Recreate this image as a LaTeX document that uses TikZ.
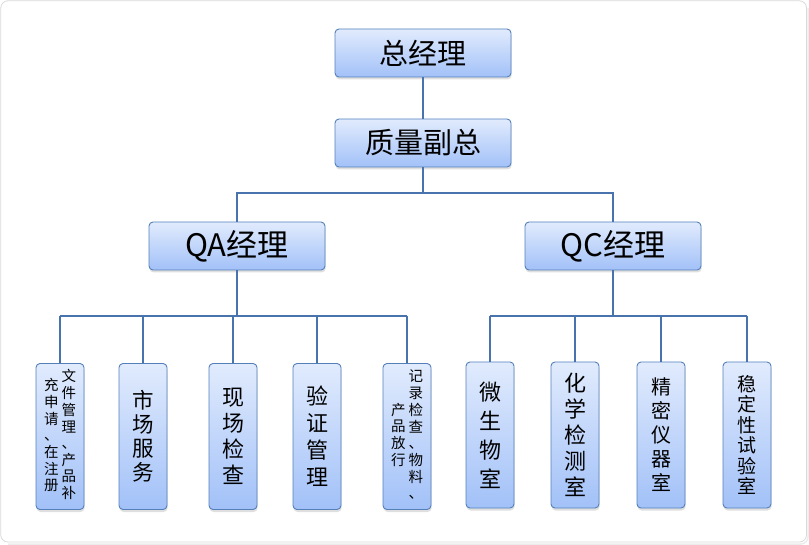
\documentclass[tikz,border=0pt]{standalone}
\usepackage{fontspec}
\newfontfamily\cjk{Noto Sans CJK SC}
\usepackage{tikz}
\usetikzlibrary{shadows}

\definecolor{boxline}{RGB}{84,128,186}
\definecolor{boxtop}{RGB}{225,235,253}
\definecolor{boxbot}{RGB}{162,193,248}
\definecolor{wirecol}{RGB}{72,115,172}

\newcommand\stackcol[1]{\begin{tabular}{@{}c@{}}#1\end{tabular}}

\tikzset{
  box/.style={draw=boxline, line width=0.9pt, rounded corners=4pt,
    top color=boxtop, bottom color=boxbot, inner sep=0pt,
    drop shadow={shadow xshift=0.6pt, shadow yshift=-2.5pt, opacity=0.25}},
  head/.style={box, minimum width=176pt, minimum height=48pt,
    font=\cjk\fontsize{29}{32}\selectfont},
  dept/.style={box, minimum width=48pt, minimum height=146pt, align=center,
    font=\cjk\fontsize{21}{26}\selectfont},
  wire/.style={draw=wirecol, line width=2pt},
}

\begin{document}
\begin{tikzpicture}[x=1pt,y=-1pt]
  \useasboundingbox (0,0) rectangle (809,545);
  % outer frame
  \draw[gray!30, line width=0.8pt, rounded corners=7pt] (0.8,0.8) rectangle (806.5,542);
  \draw[gray!15, line width=1.5pt, rounded corners=7pt] (808,8) -- (808,544) -- (8,544);

  % top levels
  \node[head] (gm) at (423,53) {总经理};
  \node[head] (vp) at (423,143) {质量副总};
  \node[head, font=\cjk\fontsize{31}{34}\selectfont] (qa) at (237,246) {QA经理};
  \node[head, font=\cjk\fontsize{31}{34}\selectfont] (qc) at (613,246) {QC经理};

  % QA departments
  \node[dept, font=\cjk\fontsize{14.5}{16}\selectfont] (qa1) at (60,436.5)
    {\stackcol{充\\申\\请\\、\\在\\注\\册}\hspace{3pt}\stackcol{文\\件\\管\\理\\、\\产\\品\\补}};
  \node[dept, font=\cjk\fontsize{21.5}{24}\selectfont] (qa2) at (143,436.5) {市\\场\\服\\务};
  \node[dept, font=\cjk\fontsize{22}{26}\selectfont] (qa3) at (233,436.5) {现\\场\\检\\查};
  \node[dept, font=\cjk\fontsize{22}{27}\selectfont] (qa4) at (317,436.5) {验\\证\\管\\理};
  \node[dept, font=\cjk\fontsize{14.5}{16}\selectfont] (qa5) at (407,436.5)
    {\stackcol{产\\品\\放\\行}\hspace{3pt}\stackcol{记\\录\\检\\查\\、\\物\\料\\、}};

  % QC departments
  \node[dept, font=\cjk\fontsize{22}{29}\selectfont] (qc1) at (490,435) {微\\生\\物\\室};
  \node[dept, font=\cjk\fontsize{22}{26}\selectfont] (qc2) at (575,435) {化\\学\\检\\测\\室};
  \node[dept, font=\cjk\fontsize{20}{24}\selectfont] (qc3) at (661,435) {精\\密\\仪\\器\\室};
  \node[dept, font=\cjk\fontsize{19}{20.5}\selectfont] (qc4) at (747,435) {稳\\定\\性\\试\\验\\室};

  % connectors
  \coordinate (j1) at (423,193);
  \coordinate (j2) at (237,316);
  \coordinate (j3) at (613,316);
  \draw[wire] (gm) -- (vp);
  \draw[wire] (vp) -- (j1);
  \draw[wire] (qa.north) |- (j1) -| (qc.north);
  \draw[wire] (qa) -- (j2);
  \draw[wire] (qc) -- (j3);
  \draw[wire] (qa1.north |- j2) -- (qa5.north |- j2);
  \draw[wire] (qc1.north |- j3) -- (qc4.north |- j3);
  \foreach \i in {1,...,5}
    \draw[wire] (qa\i.north) -- (qa\i.north |- j2);
  \foreach \i in {1,...,4}
    \draw[wire] (qc\i.north) -- (qc\i.north |- j3);
\end{tikzpicture}
\end{document}
